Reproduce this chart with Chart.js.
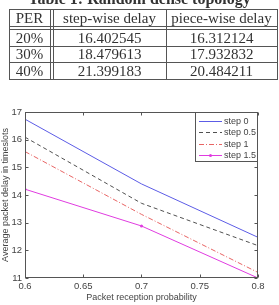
<!DOCTYPE html>
<html>
<head>
<meta charset="utf-8">
<script src="https://cdn.jsdelivr.net/npm/chart.js@4/dist/chart.umd.min.js"></script>
<style>
  html, body { margin: 0; padding: 0; background: #fff; }
  body { width: 279px; height: 305px; position: relative; overflow: hidden; }
  #chart { position: absolute; left: 0; top: 0; }
  #tbl { position: absolute; left: 0; top: 0; width: 279px; height: 90px; font-family: "Liberation Serif", serif; color: #333; }
  #tbl .t { position: absolute; left: 0; width: 279px; top: -9px; text-align: center; font-weight: bold; font-size: 16px; line-height: 16px; }
  #tbl .c { position: absolute; height: 16px; line-height: 16px; font-size: 15px; text-align: center; white-space: nowrap; }
  #tbl .h { position: absolute; height: 1px; background: #555; }
  #tbl .v { position: absolute; width: 1px; background: #555; }
</style>
</head>
<body>
<canvas id="chart" width="279" height="305"></canvas>
<div id="tbl"></div>
<script>
// table 1
const tableTitle = 'Table 1: Random dense topology';
const tableHead = ['PER', 'step-wise delay', 'piece-wise delay'];
const perLabels = ['20%', '30%', '40%'];
const stepWise = ['16.402545', '18.479613', '21.399183'];
const pieceWise = ['16.312124', '17.932832', '20.484211'];

// figure
const xValues = [0.6, 0.7, 0.8];
const step0 = [16.74, 14.40, 12.47];
const step05 = [16.09, 13.70, 12.17];
const step1 = [15.57, 13.30, 11.20];
const step15 = [14.21, 12.88, 11.00];
const seriesNames = ['step 0', 'step 0.5', 'step 1', 'step 1.5'];
const xTickLabels = ['0.6', '0.65', '0.7', '0.75', '0.8'];
const yTickLabels = ['11', '12', '13', '14', '15', '16', '17'];

const TXT = '#444';

// --- table built as plain html ---
const tbl = document.getElementById('tbl');
function add(cls, css, text) {
    const d = document.createElement('div');
    d.className = cls;
    Object.assign(d.style, css);
    if (text !== undefined) d.textContent = text;
    tbl.appendChild(d);
}
add('t', {}, tableTitle);
const colEdges = [[9, 50], [53, 166], [166, 277]];
const rowCenters = [17.5, 37.5, 54, 70.5];
const rows = [tableHead].concat(perLabels.map((p, i) => [p, stepWise[i], pieceWise[i]]));
rows.forEach((r, ri) => {
    r.forEach((txt, ci) => {
        const [a, b] = colEdges[ci];
        add('c', { left: a + 'px', width: (b - a) + 'px', top: (rowCenters[ri] - 8) + 'px' }, txt);
    });
});
[9, 26, 29, 46, 62, 79].forEach(y => add('h', { left: '9px', width: '269px', top: y + 'px' }));
[9, 50, 53, 166, 277].forEach(x => add('v', { left: x + 'px', top: '9px', height: '71px' }));

// --- box, inward ticks and legend like the matlab figure ---
const matlabFrame = {
    id: 'matlabFrame',
    afterDatasetsDraw(chart) {
        const { ctx, chartArea: a, scales } = chart;
        ctx.save();
        ctx.strokeStyle = '#555';
        ctx.lineWidth = 1;
        const L = Math.round(a.left) + 0.5, R = Math.round(a.right) - 0.5;
        const T = Math.round(a.top) + 0.5, B = Math.round(a.bottom) - 0.5;
        ctx.strokeRect(L, T, R - L, B - T);
        ctx.beginPath();
        scales.x.ticks.forEach(t => {
            const px = Math.round(scales.x.getPixelForValue(t.value)) + 0.5;
            ctx.moveTo(px, B); ctx.lineTo(px, B - 3);
            ctx.moveTo(px, T); ctx.lineTo(px, T + 3);
        });
        scales.y.ticks.forEach(t => {
            const py = Math.round(scales.y.getPixelForValue(t.value)) + 0.5;
            ctx.moveTo(L, py); ctx.lineTo(L + 3, py);
            ctx.moveTo(R, py); ctx.lineTo(R - 3, py);
        });
        ctx.stroke();

        // legend box in the top right corner
        const bx = 195.5, by = T, bw = R - bx, bh = 49;
        ctx.fillStyle = '#fff';
        ctx.fillRect(bx, by, bw, bh);
        ctx.strokeRect(bx, by, bw, bh);
        ctx.font = '9px Arial, "Liberation Sans", sans-serif';
        ctx.textBaseline = 'middle';
        chart.data.datasets.forEach((ds, i) => {
            const y = Math.round(by + 8.5 + i * 11.4) + 0.5;
            ctx.save();
            ctx.strokeStyle = ds.borderColor;
            ctx.setLineDash(ds.borderDash || []);
            ctx.beginPath();
            ctx.moveTo(199, y); ctx.lineTo(222, y);
            ctx.stroke();
            ctx.restore();
            if (ds.pointRadius > 0) {
                ctx.fillStyle = ds.borderColor;
                ctx.beginPath();
                ctx.arc(210.5, y, 1.5, 0, Math.PI * 2);
                ctx.fill();
            }
            ctx.fillStyle = TXT;
            ctx.fillText(ds.label, 224, y);
        });
        ctx.restore();
    }
};

function pts(arr) {
    return arr.map((v, i) => ({ x: xValues[i], y: v }));
}

const fontTick = { family: 'Arial, "Liberation Sans", sans-serif', size: 9.5 };
const fontTitle = { family: 'Arial, "Liberation Sans", sans-serif', size: 9 };

new Chart(document.getElementById('chart').getContext('2d'), {
    type: 'line',
    data: {
        datasets: [
            { label: seriesNames[0], data: pts(step0), borderColor: '#5c5ce6', borderWidth: 1, pointRadius: 0, tension: 0 },
            { label: seriesNames[1], data: pts(step05), borderColor: '#505050', borderWidth: 1, borderDash: [4, 3], pointRadius: 0, tension: 0 },
            { label: seriesNames[2], data: pts(step1), borderColor: '#e86464', borderWidth: 1, borderDash: [5, 2, 1, 2], pointRadius: 0, tension: 0 },
            { label: seriesNames[3], data: pts(step15), borderColor: '#e03ce0', backgroundColor: '#e03ce0', borderWidth: 1, pointRadius: 1.5, pointBorderWidth: 0, tension: 0 }
        ]
    },
    options: {
        responsive: false,
        animation: false,
        layout: { padding: { left: 0, top: 112, right: 21, bottom: 0 } },
        plugins: { legend: { display: false }, tooltip: { enabled: false } },
        scales: {
            x: {
                type: 'linear', min: 0.6, max: 0.8,
                afterFit: s => { s.height = 27; },
                grid: { display: false, drawTicks: false },
                border: { display: false },
                ticks: {
                    stepSize: 0.05, padding: 3, autoSkip: false, maxRotation: 0,
                    color: TXT, font: fontTick,
                    callback: (v, i) => xTickLabels[i]
                },
                title: { display: true, text: 'Packet reception probability', color: TXT, font: fontTitle, padding: { top: 0, bottom: 2 } }
            },
            y: {
                min: 11, max: 17,
                afterFit: s => { s.width = 25; },
                grid: { display: false, drawTicks: false },
                border: { display: false },
                ticks: {
                    stepSize: 1, padding: 3, autoSkip: false,
                    color: TXT, font: fontTick,
                    callback: (v, i) => yTickLabels[i]
                },
                title: { display: true, text: 'Average packet delay in timeslots', color: TXT, font: fontTitle, padding: 0 }
            }
        }
    },
    plugins: [matlabFrame]
});
</script>
</body>
</html>
